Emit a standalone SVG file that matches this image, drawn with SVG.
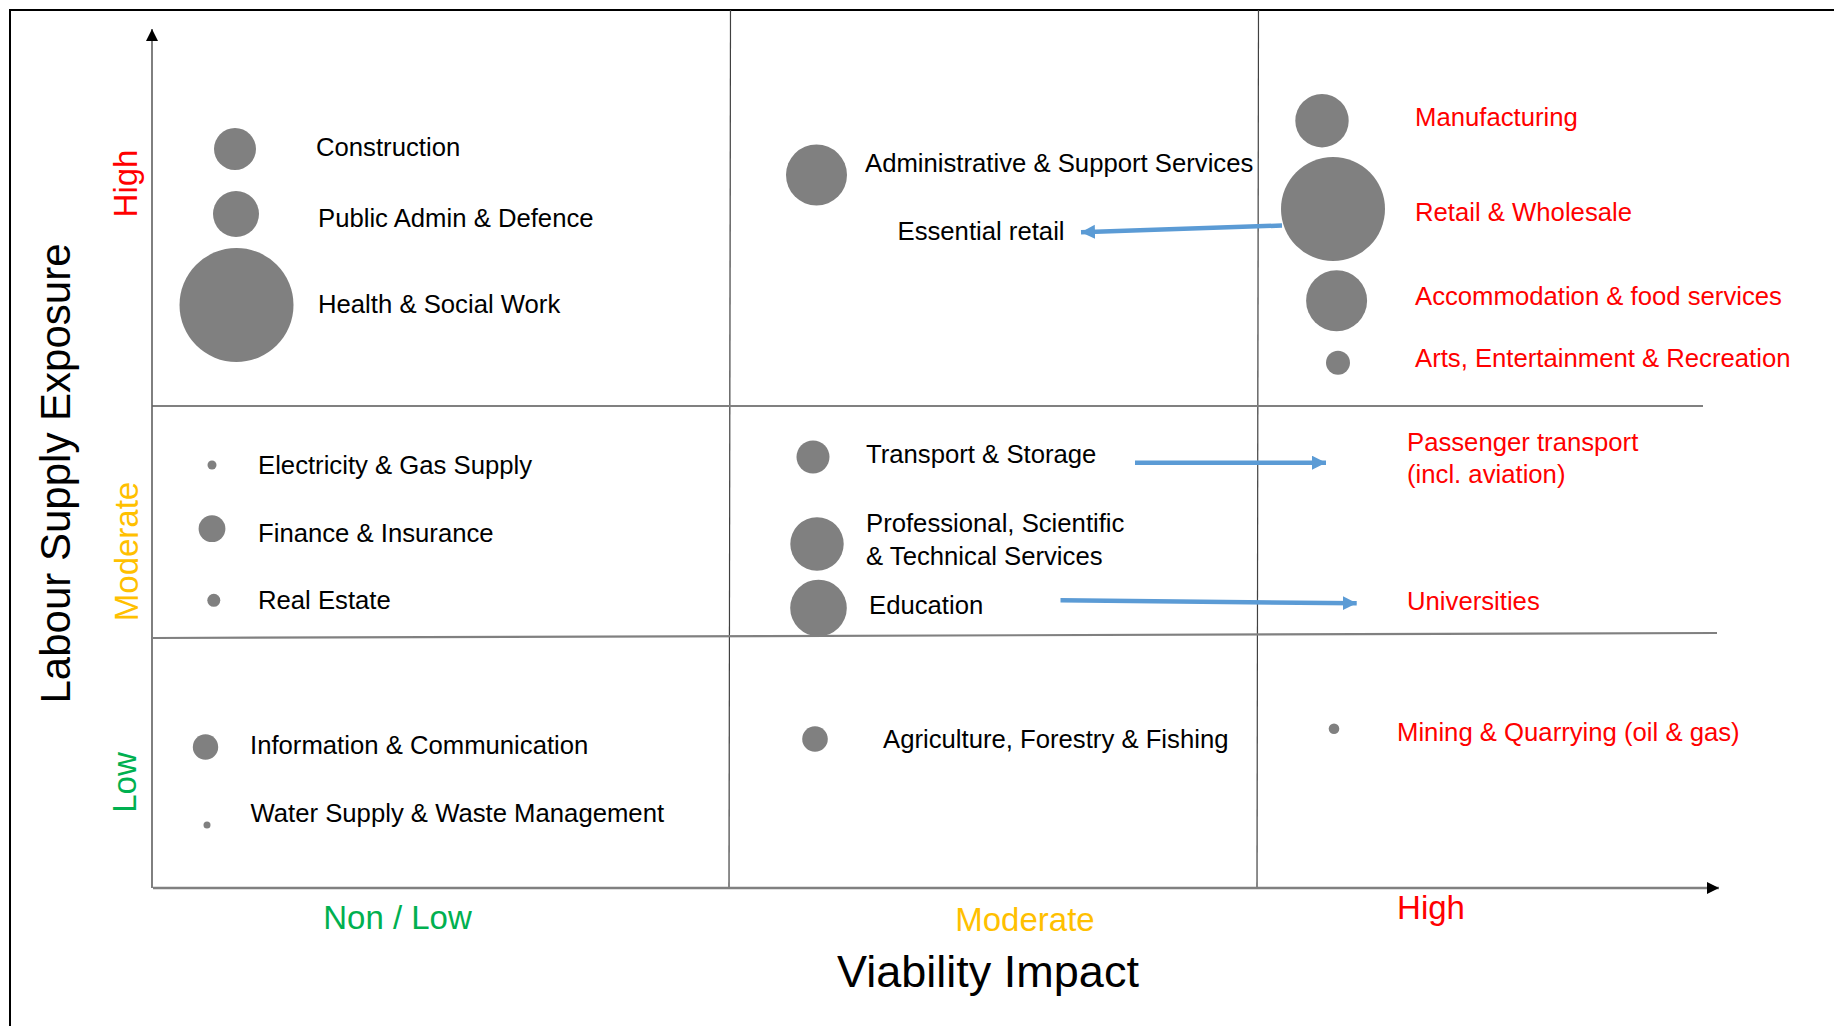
<svg xmlns="http://www.w3.org/2000/svg" width="1834" height="1026" viewBox="0 0 1834 1026">
  <style>
    text { font-family: "Liberation Sans", Arial, sans-serif; }
    .lbl { font-size: 25.7px; fill: #000000; }
    .red { font-size: 25.7px; fill: #FF0000; }
    .dot { fill: #808080; }
    .grid { stroke: #404040; stroke-width: 1.2; fill: none; }
    .hgrid { stroke: #808080; stroke-width: 2.2; fill: none; }
    .lvl { font-size: 33px; }
    .conn { stroke: #5B9BD5; stroke-width: 4.5; fill: none; }
  </style>
  <defs>
    <marker id="blueHead" markerUnits="userSpaceOnUse" markerWidth="16" markerHeight="16" refX="14" refY="7" orient="auto">
      <path d="M0,0 L14,7 L0,14 Z" fill="#5B9BD5"/>
    </marker>
    <marker id="axisHead" markerUnits="userSpaceOnUse" markerWidth="14" markerHeight="14" refX="12" refY="6" orient="auto">
      <path d="M0,0 L12,6 L0,12 Z" fill="#000000"/>
    </marker>
  </defs>

  <rect width="1834" height="1026" fill="#FFFFFF"/>

  <!-- outer frame -->
  <path d="M10,1026 V10 H1834" stroke="#000000" stroke-width="2" fill="none"/>

  <!-- grid & axes -->
  <g id="grid">
    <line class="grid" x1="730.5" y1="10" x2="729" y2="888"/>
    <line class="grid" x1="1258.5" y1="10" x2="1257" y2="888"/>
    <line class="hgrid" x1="152" y1="406" x2="1703" y2="406"/>
    <line class="hgrid" x1="153" y1="638" x2="1717" y2="633"/>
    <line x1="152" y1="888" x2="152" y2="29" stroke="#606060" stroke-width="1.6" marker-end="url(#axisHead)"/>
    <line x1="153" y1="888" x2="1719" y2="888" stroke="#808080" stroke-width="2.6" marker-end="url(#axisHead)"/>
  </g>

  <!-- axis titles and level labels -->
  <g id="axis-labels">
    <text transform="translate(70,473.5) rotate(-90)" text-anchor="middle" font-size="42" fill="#000000">Labour Supply Exposure</text>
    <text class="lvl" transform="translate(137,183.5) rotate(-90)" text-anchor="middle" fill="#FF0000">High</text>
    <text class="lvl" transform="translate(138,551.5) rotate(-90)" text-anchor="middle" fill="#FFC000">Moderate</text>
    <text class="lvl" transform="translate(136,782.5) rotate(-90)" text-anchor="middle" fill="#00B050">Low</text>
    <text class="lvl" x="397.5" y="929" text-anchor="middle" fill="#00B050">Non / Low</text>
    <text class="lvl" x="1025" y="931" text-anchor="middle" fill="#FFC000">Moderate</text>
    <text class="lvl" x="1431" y="919" text-anchor="middle" fill="#FF0000">High</text>
    <text x="988" y="987" text-anchor="middle" font-size="45" fill="#000000">Viability Impact</text>
  </g>

  <!-- connectors -->
  <g id="connectors">
    <line class="conn" x1="1282" y1="225.5" x2="1081" y2="232.3" marker-end="url(#blueHead)"/>
    <line class="conn" x1="1135" y1="462.7" x2="1326" y2="462.7" marker-end="url(#blueHead)"/>
    <line class="conn" x1="1060.5" y1="600.3" x2="1356.7" y2="603.3" marker-end="url(#blueHead)"/>
  </g>

  <!-- nodes: Non/Low viability, High exposure -->
  <g id="node-construction">
    <circle class="dot" cx="235" cy="149" r="21"/>
    <text class="lbl" x="316" y="156">Construction</text>
  </g>
  <g id="node-public-admin">
    <circle class="dot" cx="236" cy="214" r="23"/>
    <text class="lbl" x="318" y="227">Public Admin &amp; Defence</text>
  </g>
  <g id="node-health">
    <circle class="dot" cx="236.5" cy="305" r="57"/>
    <text class="lbl" x="318" y="313">Health &amp; Social Work</text>
  </g>

  <!-- Moderate viability, High exposure -->
  <g id="node-admin-support">
    <circle class="dot" cx="816.5" cy="175" r="30.5"/>
    <text class="lbl" x="865" y="172">Administrative &amp; Support Services</text>
  </g>
  <g id="node-essential-retail">
    <text class="lbl" x="897.5" y="240">Essential retail</text>
  </g>

  <!-- High viability, High exposure -->
  <g id="node-manufacturing">
    <circle class="dot" cx="1322" cy="120.7" r="26.7"/>
    <text class="red" x="1415" y="126">Manufacturing</text>
  </g>
  <g id="node-retail">
    <circle class="dot" cx="1333" cy="209" r="52"/>
    <text class="red" x="1415" y="221">Retail &amp; Wholesale</text>
  </g>
  <g id="node-accommodation">
    <circle class="dot" cx="1336.6" cy="300.7" r="30.5"/>
    <text class="red" x="1415" y="305">Accommodation &amp; food services</text>
  </g>
  <g id="node-arts">
    <circle class="dot" cx="1338" cy="362.7" r="12"/>
    <text class="red" x="1415" y="367">Arts, Entertainment &amp; Recreation</text>
  </g>

  <!-- Non/Low viability, Moderate exposure -->
  <g id="node-electricity">
    <circle class="dot" cx="212" cy="465" r="4.5"/>
    <text class="lbl" x="258" y="474">Electricity &amp; Gas Supply</text>
  </g>
  <g id="node-finance">
    <circle class="dot" cx="212" cy="528.7" r="13.4"/>
    <text class="lbl" x="258" y="541.7">Finance &amp; Insurance</text>
  </g>
  <g id="node-real-estate">
    <circle class="dot" cx="213.8" cy="600.3" r="6.5"/>
    <text class="lbl" x="258" y="608.7">Real Estate</text>
  </g>

  <!-- Moderate viability, Moderate exposure -->
  <g id="node-transport">
    <circle class="dot" cx="813" cy="457" r="16.5"/>
    <text class="lbl" x="866" y="463.3">Transport &amp; Storage</text>
  </g>
  <g id="node-professional">
    <circle class="dot" cx="817" cy="544" r="26.7"/>
    <text class="lbl" x="866" y="531.7">Professional, Scientific</text>
    <text class="lbl" x="866" y="565">&amp; Technical Services</text>
  </g>
  <g id="node-education">
    <circle class="dot" cx="818.5" cy="608" r="28.3"/>
    <text class="lbl" x="869" y="614">Education</text>
  </g>

  <!-- High viability, Moderate exposure -->
  <g id="node-passenger">
    <text class="red" x="1407" y="450.7">Passenger transport</text>
    <text class="red" x="1407" y="483.3">(incl. aviation)</text>
  </g>
  <g id="node-universities">
    <text class="red" x="1407" y="610">Universities</text>
  </g>

  <!-- Low exposure row -->
  <g id="node-information">
    <circle class="dot" cx="205.5" cy="747" r="12.7"/>
    <text class="lbl" x="250" y="754">Information &amp; Communication</text>
  </g>
  <g id="node-water">
    <circle class="dot" cx="207" cy="825" r="3.5"/>
    <text class="lbl" x="250.5" y="822">Water Supply &amp; Waste Management</text>
  </g>
  <g id="node-agriculture">
    <circle class="dot" cx="815" cy="739" r="12.8"/>
    <text class="lbl" x="883" y="748">Agriculture, Forestry &amp; Fishing</text>
  </g>
  <g id="node-mining">
    <circle class="dot" cx="1334" cy="728.7" r="5.3"/>
    <text class="red" x="1397" y="740.7">Mining &amp; Quarrying (oil &amp; gas)</text>
  </g>
</svg>
